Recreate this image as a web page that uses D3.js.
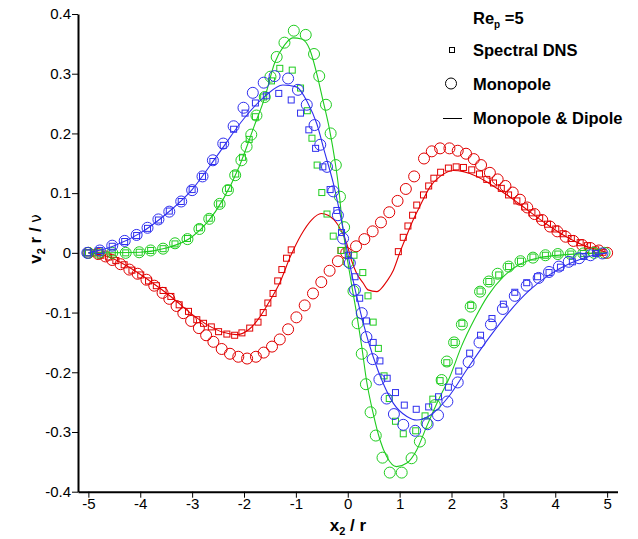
<!DOCTYPE html>
<html>
<head>
<meta charset="utf-8">
<script src="https://cdn.jsdelivr.net/npm/d3@7"></script>
<style>
  body { margin: 0; background: #fff; }
  text { font-family: "Liberation Sans", Arial, sans-serif; }
</style>
</head>
<body>
<script>

// ---- data (x2/r , v2 r/nu) ----

var xTicks = [-5, -4, -3, -2, -1, 0, 1, 2, 3, 4, 5];
var xTickLabels = ['-5', '-4', '-3', '-2', '-1', '0', '1', '2', '3', '4', '5'];
var yTicks = [-0.4, -0.3, -0.2, -0.1, 0, 0.1, 0.2, 0.3, 0.4];
var yTickLabels = ['-0.4', '-0.3', '-0.2', '-0.1', '0', '0.1', '0.2', '0.3', '0.4'];

// red
var dnsRed = [[-5.0,0.0],[-4.89,0.0],[-4.76,-0.004],[-4.61,-0.007],[-4.47,-0.013],[-4.31,-0.020],[-4.16,-0.029],[-3.99,-0.037],[-3.84,-0.047],[-3.69,-0.055],[-3.56,-0.063],[-3.41,-0.073],[-3.25,-0.087],[-3.07,-0.098],[-2.91,-0.112],[-2.78,-0.118],[-2.63,-0.124],[-2.49,-0.132],[-2.33,-0.136],[-2.18,-0.138],[-2.04,-0.134],[-1.89,-0.126],[-1.73,-0.116],[-1.63,-0.100],[-1.54,-0.084],[-1.44,-0.068],[-1.35,-0.047],[-1.27,-0.028],[-1.18,-0.009],[-1.09,0.005],[-0.13,0.004],[0.975,0.002],[1.07,0.026],[1.16,0.045],[1.25,0.063],[1.33,0.080],[1.46,0.097],[1.56,0.112],[1.66,0.125],[1.79,0.135],[1.94,0.142],[2.09,0.144],[2.23,0.143],[2.39,0.139],[2.54,0.132],[2.68,0.123],[2.81,0.117],[2.96,0.108],[3.10,0.097],[3.26,0.087],[3.41,0.077],[3.55,0.067],[3.70,0.058],[3.85,0.048],[4.01,0.040],[4.15,0.032],[4.31,0.024],[4.48,0.017],[4.62,0.012],[4.78,0.005],[4.92,0.001]];
var monoRed = [[-5.0,0.0],[-4.81,-0.002],[-4.67,-0.006],[-4.54,-0.012],[-4.38,-0.019],[-4.21,-0.028],[-4.05,-0.035],[-3.88,-0.045],[-3.73,-0.055],[-3.57,-0.067],[-3.44,-0.077],[-3.30,-0.089],[-3.17,-0.101],[-3.02,-0.114],[-2.87,-0.126],[-2.73,-0.138],[-2.59,-0.149],[-2.43,-0.161],[-2.27,-0.169],[-2.11,-0.174],[-1.94,-0.177],[-1.77,-0.174],[-1.62,-0.167],[-1.46,-0.157],[-1.31,-0.145],[-1.15,-0.128],[-0.99,-0.108],[-0.83,-0.088],[-0.67,-0.068],[-0.51,-0.049],[-0.35,-0.030],[-0.19,-0.014],[-0.03,0.0],[0.16,0.011],[0.32,0.023],[0.48,0.036],[0.64,0.051],[0.80,0.068],[0.96,0.087],[1.12,0.107],[1.28,0.128],[1.47,0.158],[1.62,0.170],[1.78,0.175],[1.96,0.175],[2.12,0.171],[2.28,0.166],[2.43,0.157],[2.57,0.147],[2.74,0.134],[2.89,0.123],[3.04,0.112],[3.18,0.101],[3.32,0.089],[3.46,0.076],[3.60,0.065],[3.75,0.055],[3.90,0.044],[4.04,0.036],[4.20,0.027],[4.35,0.020],[4.52,0.013],[4.68,0.008],[4.84,0.004],[5.0,0.0]];
var mdRed = [[-5.0,0.0],[-4.6,-0.007],[-4.2,-0.025],[-3.8,-0.048],[-3.4,-0.074],[-3.0,-0.103],[-2.7,-0.121],[-2.4,-0.133],[-2.15,-0.137],[-1.9,-0.128],[-1.7,-0.108],[-1.5,-0.080],[-1.31,-0.050],[-1.1,-0.005],[-0.9,0.030],[-0.7,0.055],[-0.51,0.066],[-0.38,0.063],[-0.19,0.047],[-0.02,0.016],[0.07,-0.012],[0.17,-0.034],[0.30,-0.051],[0.39,-0.062],[0.56,-0.065],[0.62,-0.062],[0.75,-0.048],[0.88,-0.029],[1.01,0.002],[1.14,0.030],[1.26,0.055],[1.39,0.078],[1.59,0.111],[1.78,0.128],[2.04,0.138],[2.23,0.136],[2.49,0.128],[2.75,0.115],[3.07,0.097],[3.46,0.072],[3.85,0.047],[4.23,0.026],[4.62,0.010],[4.88,0.004],[5.0,0.0]];

// green
var dnsGreen = [[-5.0,0.0],[-4.80,0.0],[-4.54,0.0],[-4.28,0.0],[-4.02,0.001],[-3.80,0.004],[-3.56,0.007],[-3.33,0.015],[-3.09,0.024],[-2.86,0.042],[-2.67,0.058],[-2.47,0.082],[-2.30,0.108],[-2.16,0.132],[-2.03,0.160],[-1.90,0.190],[-1.78,0.228],[-1.62,0.261],[-1.47,0.288],[-1.31,0.309],[-1.07,0.306],[-0.91,0.276],[-0.78,0.238],[-0.69,0.192],[-0.59,0.147],[-0.50,0.101],[-0.40,0.065],[-0.28,0.028],[-0.13,0.004],[0.12,-0.004],[0.29,-0.033],[0.39,-0.072],[0.49,-0.116],[0.59,-0.160],[0.70,-0.206],[0.80,-0.244],[0.92,-0.282],[1.07,-0.303],[1.31,-0.298],[1.49,-0.273],[1.64,-0.245],[1.78,-0.214],[1.91,-0.184],[2.05,-0.150],[2.20,-0.118],[2.37,-0.088],[2.55,-0.064],[2.72,-0.048],[2.91,-0.037],[3.10,-0.023],[3.33,-0.014],[3.57,-0.007],[3.81,-0.004],[4.05,-0.002],[4.30,-0.002],[4.54,-0.001],[4.80,0.0]];
var monoGreen = [[-5.0,0.0],[-4.80,0.0],[-4.54,0.0],[-4.28,0.0],[-4.02,0.001],[-3.80,0.004],[-3.56,0.007],[-3.33,0.016],[-3.09,0.023],[-2.86,0.040],[-2.67,0.057],[-2.47,0.082],[-2.31,0.105],[-2.17,0.130],[-2.05,0.155],[-1.95,0.178],[-1.86,0.198],[-1.76,0.230],[-1.60,0.261],[-1.49,0.295],[-1.37,0.328],[-1.22,0.352],[-1.04,0.372],[-0.81,0.365],[-0.65,0.333],[-0.55,0.296],[-0.42,0.248],[-0.33,0.200],[-0.23,0.147],[-0.15,0.094],[-0.07,0.043],[0.01,-0.015],[0.11,-0.064],[0.19,-0.118],[0.27,-0.169],[0.35,-0.220],[0.44,-0.267],[0.54,-0.306],[0.67,-0.343],[0.81,-0.368],[1.04,-0.368],[1.23,-0.344],[1.39,-0.316],[1.52,-0.285],[1.68,-0.255],[1.81,-0.213],[1.91,-0.182],[2.05,-0.150],[2.20,-0.120],[2.37,-0.090],[2.55,-0.065],[2.72,-0.048],[2.89,-0.035],[3.10,-0.023],[3.33,-0.014],[3.57,-0.008],[3.81,-0.004],[4.05,-0.002],[4.30,-0.002],[4.54,-0.001],[4.75,0.0],[4.95,0.0]];
var mdGreen = [[-5.0,0.0],[-4.0,0.001],[-3.5,0.008],[-3.0,0.027],[-2.7,0.052],[-2.4,0.090],[-2.1,0.143],[-1.8,0.213],[-1.6,0.260],[-1.41,0.318],[-1.22,0.348],[-1.06,0.360],[-0.89,0.358],[-0.73,0.340],[-0.60,0.301],[-0.48,0.256],[-0.35,0.206],[-0.25,0.156],[-0.17,0.105],[-0.12,0.061],[0.07,-0.051],[0.17,-0.101],[0.27,-0.157],[0.36,-0.213],[0.49,-0.269],[0.62,-0.313],[0.75,-0.341],[0.94,-0.358],[1.14,-0.352],[1.33,-0.330],[1.52,-0.291],[1.75,-0.246],[1.97,-0.207],[2.2,-0.155],[2.45,-0.110],[2.7,-0.072],[3.0,-0.040],[3.3,-0.020],[3.7,-0.008],[4.2,-0.003],[5.0,0.0]];

// blue
var dnsBlue = [[-5.02,0.0],[-4.78,0.004],[-4.54,0.011],[-4.30,0.019],[-4.07,0.029],[-3.86,0.041],[-3.65,0.055],[-3.44,0.070],[-3.21,0.086],[-3.0,0.106],[-2.80,0.128],[-2.60,0.153],[-2.40,0.180],[-2.20,0.207],[-1.98,0.234],[-1.78,0.251],[-1.57,0.263],[-1.33,0.267],[-1.09,0.256],[-0.91,0.234],[-0.75,0.206],[-0.62,0.175],[-0.48,0.144],[-0.34,0.106],[-0.21,0.071],[-0.12,0.034],[0.01,-0.004],[0.14,-0.040],[0.23,-0.076],[0.36,-0.114],[0.49,-0.150],[0.62,-0.181],[0.76,-0.210],[0.92,-0.234],[1.09,-0.255],[1.32,-0.262],[1.56,-0.258],[1.75,-0.241],[1.94,-0.225],[2.14,-0.198],[2.35,-0.168],[2.56,-0.138],[2.78,-0.110],[3.0,-0.086],[3.22,-0.066],[3.45,-0.050],[3.66,-0.040],[3.88,-0.033],[4.10,-0.024],[4.33,-0.015],[4.55,-0.006],[4.78,-0.001]];
var monoBlue = [[-5.02,0.0],[-4.78,0.004],[-4.54,0.012],[-4.30,0.020],[-4.07,0.030],[-3.86,0.042],[-3.65,0.056],[-3.44,0.069],[-3.21,0.086],[-3.00,0.105],[-2.80,0.128],[-2.60,0.155],[-2.40,0.183],[-2.20,0.212],[-2.01,0.243],[-1.83,0.268],[-1.62,0.285],[-1.41,0.296],[-1.15,0.292],[-0.96,0.273],[-0.79,0.248],[-0.64,0.214],[-0.53,0.181],[-0.40,0.144],[-0.28,0.103],[-0.19,0.063],[-0.09,0.024],[0.04,-0.017],[0.14,-0.062],[0.27,-0.101],[0.36,-0.141],[0.48,-0.178],[0.61,-0.212],[0.75,-0.244],[0.89,-0.270],[1.07,-0.288],[1.30,-0.298],[1.54,-0.287],[1.74,-0.272],[1.92,-0.249],[2.12,-0.217],[2.33,-0.183],[2.54,-0.150],[2.76,-0.120],[2.99,-0.094],[3.22,-0.072],[3.45,-0.055],[3.68,-0.042],[3.88,-0.032],[4.07,-0.023],[4.26,-0.015],[4.46,-0.009],[4.68,-0.004],[4.91,-0.001]];
var mdBlue = [[-5.0,0.0],[-4.5,0.012],[-4.0,0.033],[-3.5,0.065],[-3.0,0.106],[-2.5,0.165],[-2.0,0.225],[-1.6,0.262],[-1.25,0.281],[-0.99,0.278],[-0.77,0.251],[-0.60,0.217],[-0.44,0.167],[-0.28,0.117],[-0.15,0.066],[0.10,-0.045],[0.30,-0.118],[0.49,-0.174],[0.68,-0.218],[0.88,-0.252],[1.14,-0.274],[1.33,-0.280],[1.59,-0.272],[1.97,-0.238],[2.3,-0.195],[2.7,-0.145],[3.1,-0.100],[3.5,-0.063],[3.9,-0.036],[4.3,-0.017],[4.7,-0.005],[5.0,0.0]];

var red = '#e00000', green = '#1fcc1f', blue = '#2f2fee';

var series = [
    { color: red,   dns: dnsRed,   mono: monoRed,   md: mdRed },
    { color: green, dns: dnsGreen, mono: monoGreen, md: mdGreen },
    { color: blue,  dns: dnsBlue,  mono: monoBlue,  md: mdBlue }
];

// ---- drawing ----

var width = 638;
var height = 539;

var svg = d3.select('body').append('svg')
    .attr('width', width)
    .attr('height', height);

var x = d3.scaleLinear().domain([-5.2, 5.2]).range([78, 617.5]);
var y = d3.scaleLinear().domain([-0.4, 0.4]).range([491.7, 14]);

var line = d3.line()
    .x(function(d) { return x(d[0]); })
    .y(function(d) { return y(d[1]); })
    .curve(d3.curveMonotoneX);

var plot = svg.append('g');

series.forEach(function(s) {
    plot.append('path')
        .attr('d', line(s.md))
        .attr('fill', 'none')
        .attr('stroke', s.color)
        .attr('stroke-width', 1.1);

    plot.append('g').selectAll('circle')
        .data(s.mono)
        .enter().append('circle')
            .attr('cx', function(d) { return x(d[0]); })
            .attr('cy', function(d) { return y(d[1]); })
            .attr('r', 5.5)
            .attr('fill', 'none')
            .attr('stroke', s.color)
            .attr('stroke-width', 1);

    plot.append('g').selectAll('rect')
        .data(s.dns)
        .enter().append('rect')
            .attr('x', function(d) { return x(d[0]) - 3; })
            .attr('y', function(d) { return y(d[1]) - 3; })
            .attr('width', 6)
            .attr('height', 6)
            .attr('fill', 'none')
            .attr('stroke', s.color)
            .attr('stroke-width', 1);
});

// axes
var xMinor = d3.range(-52, 53, 2).map(function(v) { return v / 10; });
var yMinor = d3.range(-40, 41, 2).map(function(v) { return v / 100; });

var xAxisG = svg.append('g').attr('transform', 'translate(0,' + y(-0.4) + ')');
xAxisG.call(d3.axisBottom(x).tickValues(xMinor).tickSize(5).tickSizeOuter(0).tickFormat(''));
xAxisG.call(d3.axisBottom(x).tickValues(xTicks).tickSize(6).tickSizeOuter(0)
    .tickFormat(function(d, i) { return xTickLabels[i]; }));

var yAxisG = svg.append('g').attr('transform', 'translate(' + x(-5.2) + ',0)');
yAxisG.call(d3.axisLeft(y).tickValues(yMinor).tickSize(4).tickSizeOuter(0).tickFormat(''));
yAxisG.call(d3.axisLeft(y).tickValues(yTicks).tickSize(6).tickSizeOuter(0)
    .tickFormat(function(d, i) { return yTickLabels[i]; }));

svg.selectAll('.domain').attr('stroke', '#000').attr('stroke-width', 2);
svg.selectAll('.tick line').attr('stroke', '#000').attr('stroke-width', 1);
svg.selectAll('.tick text')
    .attr('font-family', '"Liberation Sans", Arial, sans-serif')
    .attr('font-size', 15)
    .attr('fill', '#000');
xAxisG.selectAll('.tick text').attr('dy', null).attr('y', 17);
yAxisG.selectAll('.tick text').attr('x', -7);

// axis titles
var xt = svg.append('text')
    .attr('x', 348).attr('y', 531)
    .attr('text-anchor', 'middle')
    .attr('font-weight', 'bold')
    .attr('font-size', 17);
xt.append('tspan').text('x');
xt.append('tspan').attr('font-size', 11).attr('dy', 4).text('2');
xt.append('tspan').attr('dy', -4).text(' / r');

var yt = svg.append('text')
    .attr('transform', 'translate(41,239) rotate(-90)')
    .attr('text-anchor', 'middle')
    .attr('font-weight', 'bold')
    .attr('font-size', 17);
yt.append('tspan').text('v');
yt.append('tspan').attr('font-size', 11).attr('dy', 4).text('2');
yt.append('tspan').attr('dy', -4).text(' r / ');
yt.append('tspan').attr('font-weight', 'normal').attr('font-size', 15)
    .attr('font-family', '"DejaVu Sans", sans-serif').text('ν');

// legend
var lg = svg.append('g');
var re = lg.append('text').attr('x', 473).attr('y', 24)
    .attr('font-weight', 'bold').attr('font-size', 16.5);
re.append('tspan').text('Re');
re.append('tspan').attr('font-size', 10).attr('dy', 4).text('p');
re.append('tspan').attr('dy', -4).text(' =5');

var legendItems = ['Spectral DNS', 'Monopole', 'Monopole & Dipole'];
var legendY = [56, 90, 124];

lg.selectAll('text.item')
    .data(legendItems)
    .enter().append('text')
        .attr('class', 'item')
        .attr('x', 473)
        .attr('y', function(d, i) { return legendY[i]; })
        .attr('font-weight', 'bold')
        .attr('font-size', 16.5)
        .text(function(d) { return d; });

lg.append('rect')
    .attr('x', 449.5).attr('y', legendY[0] - 8.5)
    .attr('width', 5).attr('height', 5)
    .attr('fill', 'none').attr('stroke', '#000').attr('stroke-width', 1);
lg.append('circle')
    .attr('cx', 451).attr('cy', legendY[1] - 6.5).attr('r', 5.5)
    .attr('fill', 'none').attr('stroke', '#000').attr('stroke-width', 1);
lg.append('line')
    .attr('x1', 443).attr('x2', 462)
    .attr('y1', legendY[2] - 5.5).attr('y2', legendY[2] - 5.5)
    .attr('stroke', '#000').attr('stroke-width', 1);

</script>
</body>
</html>
